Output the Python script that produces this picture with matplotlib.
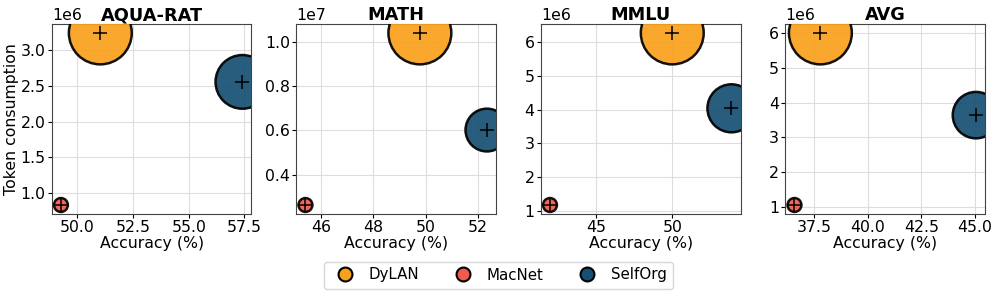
import numpy as np
import matplotlib
matplotlib.use('Agg')
import matplotlib.pyplot as plt
from matplotlib.lines import Line2D

# data
datasets = ['AQUA-RAT', 'MATH', 'MMLU', 'AVG']
methods = ['DyLAN', 'MacNet', 'SelfOrg']
colors = ['#F9A11B', '#F25A4A', '#164F73']

accuracy = {
    'AQUA-RAT': [51.03, 49.26, 57.41],
    'MATH': [49.78, 45.41, 52.34],
    'MMLU': [50.0, 41.94, 53.9],
    'AVG': [37.78, 36.57, 45.05],
}
tokens = {
    'AQUA-RAT': [3.24e6, 0.836e6, 2.556e6],
    'MATH': [10.4e6, 2.64e6, 6.02e6],
    'MMLU': [6.27e6, 1.18e6, 4.04e6],
    'AVG': [6.0e6, 1.06e6, 3.64e6],
}

fs = 11.3

fig, axes = plt.subplots(1, 4, figsize=(9.97, 2.93), dpi=100)
fig.subplots_adjust(left=0.052, right=0.988, top=0.917, bottom=0.271, wspace=0.225)

for ax, name in zip(axes, datasets):
    x = np.array(accuracy[name])
    y = np.array(tokens[name])
    # bubble size from min-max normalised token usage
    sizes = 100 + 1950 * (y - y.min()) / (y.max() - y.min())
    ax.grid(True, color='#dddddd', linewidth=0.8, zorder=0)
    ax.scatter(x, y, s=sizes, c=colors, edgecolors='black', linewidths=1.8,
               alpha=0.92, zorder=3)
    ax.scatter(x, y, marker='+', s=110, c='black', linewidths=1.1, zorder=4)
    ax.set_title(name, fontsize=12.8, fontweight='bold', pad=3)
    ax.set_xlabel('Accuracy (%)', fontsize=fs, labelpad=1)
    ax.tick_params(labelsize=fs, length=3, pad=1.5)
    ax.yaxis.get_offset_text().set_fontsize(fs)
    for sp in ax.spines.values():
        sp.set_color('#444444')

axes[0].set_ylabel('Token consumption', fontsize=fs, labelpad=1)

handles = [Line2D([0], [0], marker='o', linestyle='none', markerfacecolor=c,
                  markeredgecolor='black', markeredgewidth=1.5, markersize=10)
           for c in colors]
fig.legend(handles, methods, loc='lower center', ncol=3, fontsize=10.8,
           bbox_to_anchor=(0.5, 0.0), borderaxespad=0.3, columnspacing=1.9,
           handletextpad=0.6, borderpad=0.4)

plt.savefig('out.png', dpi=100)
